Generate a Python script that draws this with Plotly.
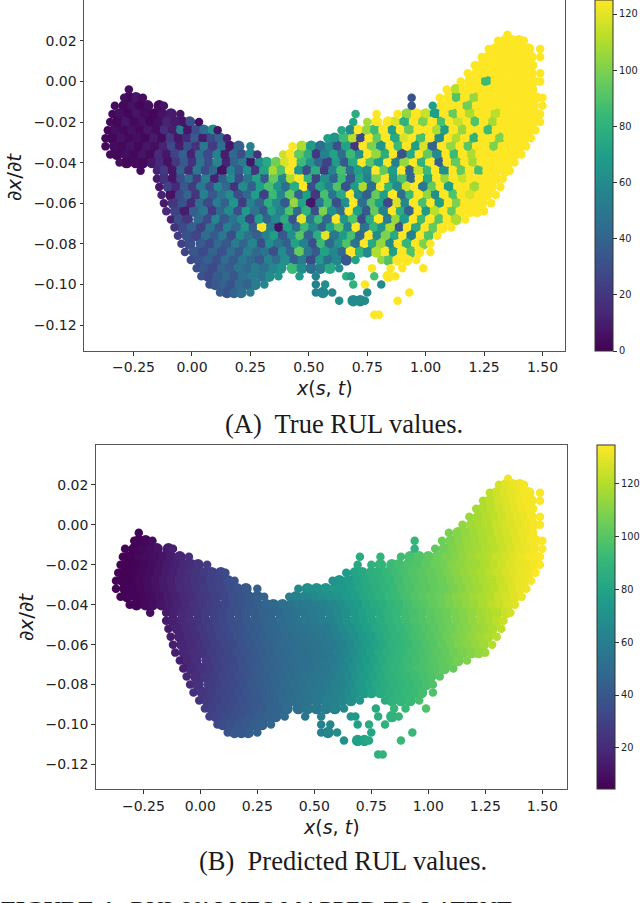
import plotly.graph_objects as go

# points, one row per dx/dt level
y_rows = [.023, .020, .016, .012, .008, .004, 0, -.004, -.008, -.012, -.016, -.020, -.024, -.028, -.032, -.036,
          -.040, -.044, -.048, -.052, -.056, -.060, -.064, -.068, -.072, -.076, -.080, -.084, -.088, -.092,
          -.096, -.100, -.104, -.108, -.115]

x_rows = [
    [1.35],
    [1.31,1.34,1.37,1.40,1.42],
    [1.27,1.30,1.33,1.36,1.39,1.42,1.44,1.49],
    [1.24,1.27,1.31,1.34,1.37,1.40,1.43,1.45,1.49],
    [1.21,1.24,1.28,1.31,1.35,1.38,1.41,1.44,1.46],
    [1.18,1.22,1.25,1.29,1.32,1.36,1.39,1.42,1.45,1.49],
    [1.15,1.19,1.22,1.26,1.30,1.33,1.36,1.40,1.43,1.46, 1.49],
    [-.27,1.09,1.13,1.16,1.20,1.23,1.27,1.31,1.34,1.38,1.41, 1.44,1.46],
    [-.29,-.27,-.24,-.21,.94,1.06,1.10,1.13,1.17,1.21,1.24,1.28, 1.32,1.35,1.39,1.42,1.45,1.47,1.50],
    [-.33,-.29,-.26,-.22,-.19,-.14,-.12,.94,1.03,1.07, 1.11,1.14,1.18,1.22,1.25,1.29,1.33,1.36,1.40,1.43, 1.46,1.50],
    [-.34,-.31,-.27,-.24,-.20,-.16,-.13,-.09,-.05,.70,.79,.88, .92,.96,1.00,1.04,1.08,1.12,1.15,1.19,1.23,1.26, 1.30,1.34,1.37,1.41,1.44,1.47,1.49],
    [-.35,-.32,-.28,-.25,-.21,-.18,-.14,-.11,-.07,-.04, -.01,.03,.69,.75,.79,.84,.87,.91,.95,.99, 1.03,1.07,1.10,1.14,1.18,1.21,1.25,1.29,1.32,1.36, 1.39,1.43,1.46,1.49],
    [-.36,-.33,-.29,-.26,-.22,-.19,-.15,-.12,-.08,-.05, -.02,.02,.05,.09,.11,.64,.68,.71,.75,.78, .82,.86,.89,.93,.97,1.01,1.05,1.08,1.12,1.16, 1.19,1.23,1.27,1.30,1.34,1.37,1.41,1.44,1.47],
    [-.37,-.34,-.30,-.27,-.23,-.20,-.16,-.13,-.09,-.06, -.02,.01,.05,.08,.12,.15,.58,.61,.65,.69, .72,.76,.79,.83,.87,.91,.94,.98,1.02,1.06, 1.10,1.13,1.17,1.21,1.24,1.28,1.32,1.35,1.39,1.42, 1.45],
    [-.37,-.33,-.30,-.26,-.23,-.19,-.16,-.12,-.09,-.05, -.02,.02,.05,.09,.13,.16,.20,.25,.43,.47, .51,.55,.59,.62,.66,.70,.73,.77,.81,.85, .88,.92,.96,.99,1.03,1.07,1.11,1.15,1.18,1.22, 1.26,1.29,1.33,1.37,1.40,1.43],
    [-.35,-.32,-.28,-.25,-.21,-.18,-.14,-.11,-.07,-.04, 0,.03,.07,.11,.14,.18,.21,.25,.28,.39, .42,.46,.50,.53,.57,.61,.64,.68,.72,.75, .79,.83,.86,.90,.94,.97,1.01,1.05,1.09,1.12, 1.16,1.20,1.23,1.27,1.31,1.34,1.38,1.41],
    [-.31,-.28,-.24,-.21,-.17,-.14,-.10,-.07,-.03,0, .04,.07,.11,.15,.18,.22,.25,.29,.32,.36, .40,.43,.47,.51,.54,.58,.62,.65,.69,.73, .76,.80,.84,.87,.91,.95,.98,1.02,1.06,1.09, 1.13,1.17,1.20,1.24,1.28,1.31,1.35,1.38],
    [-.22,-.15,-.12,-.08,-.05,-.01,.02,.06,.09,.13, .17,.20,.24,.27,.31,.35,.38,.42,.46,.49, .53,.57,.60,.64,.68,.71,.75,.79,.82,.86, .90,.93,.97,1.01,1.04,1.08,1.12,1.15,1.19,1.23, 1.26,1.30,1.34,1.36],
    [-.15,-.12,-.08,-.05,-.01,.02,.06,.10,.13,.17, .20,.24,.28,.31,.35,.39,.42,.46,.50,.53, .57,.61,.64,.68,.72,.75,.79,.83,.86,.90, .94,.97,1.01,1.05,1.08,1.12,1.16,1.19,1.23,1.27, 1.30,1.33],
    [-.14,-.10,-.07,-.03,0,.04,.08,.11,.15,.18, .22,.26,.29,.33,.37,.40,.44,.48,.51,.55, .59,.62,.66,.70,.73,.77,.81,.84,.88,.92, .95,.99,1.03,1.06,1.10,1.14,1.17,1.21,1.25,1.28, 1.32],
    [-.13,-.09,-.05,-.02,.02,.05,.09,.13,.16,.20, .24,.27,.31,.35,.38,.42,.46,.49,.53,.57, .60,.64,.68,.71,.75,.79,.82,.86,.90,.93, .97,1.01,1.04,1.08,1.12,1.15,1.19,1.23,1.26,1.30],
    [-.12,-.08,-.04,0,.03,.07,.11,.14,.18,.22, .25,.29,.33,.36,.40,.44,.47,.51,.55,.58, .62,.66,.69,.73,.77,.80,.84,.88,.91,.95, .99,1.02,1.06,1.10,1.13,1.17,1.21,1.24,1.28],
    [-.11,-.07,-.03,.01,.05,.09,.12,.16,.20,.23, .27,.31,.34,.38,.42,.45,.49,.53,.56,.60, .64,.67,.71,.75,.78,.82,.86,.89,.93,.97, 1.00,1.04,1.08,1.11,1.15,1.19,1.22,1.25],
    [-.09,-.06,-.02,.03,.07,.10,.14,.18,.21,.25, .29,.32,.36,.40,.43,.47,.51,.54,.58,.62, .65,.69,.73,.76,.80,.84,.87,.91,.95,.98, 1.02,1.06,1.09,1.13,1.17],
    [-.075,-.04,0,.04,.08,.12,.15,.19,.23,.26, .30,.34,.37,.41,.45,.48,.52,.56,.59,.63, .67,.70,.74,.78,.81,.85,.89,.92,.96,1.00, 1.03,1.07,1.11],
    [-.06,-.02,.02,.06,.10,.13,.17,.21,.24,.28, .32,.35,.39,.43,.46,.50,.54,.57,.61,.65, .68,.72,.76,.79,.83,.87,.90,.94,.98,1.01, 1.05],
    [-.045,-.01,.04,.08,.11,.15,.19,.22,.26,.30, .33,.37,.41,.44,.48,.52,.55,.59,.63,.66, .70,.74,.77,.81,.85,.88,.92,.96,.99,1.02],
    [-.03,.01,.05,.09,.13,.17,.20,.24,.28,.31, .35,.39,.42,.46,.50,.53,.57,.61,.64,.68, .72,.75,.79,.83,.86,.90,.94,.97,1.02],
    [-.005,.03,.07,.11,.14,.18,.22,.25,.29,.33, .36,.40,.44,.47,.51,.55,.58,.62,.66,.70, .81,.84,.88,.92,.96],
    [.02,.05,.09,.13,.16,.20,.24,.27,.31,.35, .38,.43,.47,.51,.55,.59,.63,.77,.85,.90, .99],
    [.04,.07,.11,.15,.18,.22,.26,.30,.33,.37, .46,.53,.66,.68,.78,.84,.87],
    [.075,.10,.13,.17,.20,.24,.27,.31,.53,.57, .69,.74,.81],
    [.12,.15,.18,.21,.25,.53,.56,.60,.75,.93],
    [.63,.69,.72,.74,.88],
    [.78,.80],
]

rul_true_rows = [
    [125],
    [125,125,125,125,125],
    [125,125,125,125,125,125,125,125],
    [125,125,125,125,125,125,125,125,125],
    [125,125,125,125,125,125,125,125,125],
    [125,125,125,125,125,125,125,125,125,125],
    [125,125,125,85,125,125,125,125,125,125, 125],
    [5,125,112,125,125,125,125,125,125,125,125, 125,125],
    [5,3,8,4,32,125,125,90,125,105,125,125, 125,125,125,125,125,125,125],
    [4,3,6,2,5,3,7,32,70,125, 125,125,98,125,125,125,125,125,125,125, 125,125],
    [3,5,2,7,4,2,6,9,7,78,125,125, 105,125,115,70,125,95,125,110,125,125, 112,125,125,125,125,125,125],
    [4,2,8,3,6,2,5,12,9,7, 30,5,72,108,125,125,118,80,125,100, 125,88,125,115,125,90,125,108,125,125, 125,125,125,125],
    [2,5,3,6,3,8,4,16,10,52, 8,30,45,62,8,75,60,125,105,85, 125,70,125,95,125,125,110,70,125,105, 125,125,85,125,125,125,125,125,125],
    [3,2,6,3,5,2,9,4,22,8, 14,35,10,28,40,12,70,65,85,112, 28,125,95,125,75,118,125,88,125,60, 125,110,125,80,125,125,100,125,125,125, 125],
    [2,4,3,6,2,8,5,12,28,10, 32,18,50,22,45,8,38,55,125,110, 68,45,60,30,72,20,125,100,65,125, 85,125,70,118,40,125,105,125,92,125, 125,100,125,125,125,125],
    [3,2,5,3,7,4,15,8,25,38, 12,45,28,55,10,42,30,58,18,115, 125,95,78,20,55,72,45,85,62,125, 105,78,125,32,75,125,95,60,125,85, 125,110,125,125,125,125,125,125],
    [5,2,4,3,8,14,6,20,35,18, 48,30,58,12,40,52,8,62,75,98, 118,125,85,65,42,25,68,35,75,125, 92,70,125,55,105,125,80,125,38,125, 95,125,108,125,125,125,125,125],
    [4,12,22,8,38,15,50,28,42,6, 55,35,62,20,72,108,90,125,65,30, 78,22,55,88,45,70,60,125,95,68, 125,40,115,85,125,62,125,95,125,88, 125,125,125,125],
    [10,18,7,30,45,22,55,12,38,60, 28,48,72,35,95,58,110,125,80,25, 62,40,85,35,75,55,100,125,65,90, 42,125,75,125,105,125,115,125,125,125, 125,125],
    [8,25,14,35,22,50,30,58,42,18, 60,38,70,88,65,45,78,125,30,72, 55,90,32,68,110,45,125,82,60,115, 125,50,95,125,70,125,125,108,125,125, 125],
    [12,6,28,40,20,55,35,48,62,30, 42,70,25,85,58,95,40,70,20,88, 48,75,125,60,38,95,70,125,45,85, 125,105,62,125,90,125,118,125,125,125],
    [9,20,32,15,45,28,52,38,65,22, 55,40,78,60,35,105,72,8,50,85, 30,62,125,45,92,70,28,118,58,125, 88,125,70,125,100,125,125,125,125],
    [14,25,10,38,50,22,42,60,30,68, 48,35,72,55,90,42,80,30,100,62, 45,125,70,35,95,55,125,78,40,125, 68,112,125,95,125,125,125,125],
    [11,30,20,42,28,58,35,48,62,25, 70,40,58,78,32,120,50,85,42,125, 65,90,30,75,125,52,105,68,125,85, 125,92,125,110,125],
    [18,28,38,24,48,32,55,42,66,36, 125,52,6,70,45,85,60,38,72,95, 55,125,48,82,65,110,35,125,75,125, 95,125,125],
    [22,32,26,44,36,50,30,60,46,38, 55,70,35,62,92,40,78,120,50,68, 88,42,125,60,100,75,125,55,125,90, 125],
    [24,30,36,28,42,34,52,40,58,30, 62,48,38,72,55,30,85,42,65,90, 48,125,75,105,60,125,82,125,100,125],
    [26,34,28,40,32,46,36,54,42,48, 30,60,40,95,50,35,72,58,42,125, 80,60,110,125,70,125,90,125,125],
    [28,32,38,30,44,36,50,42,35,56, 44,62,38,52,28,68,45,58,35,72, 105,90,125,125,125],
    [30,34,28,40,36,48,42,52,46,58, 64,85,60,45,52,75,62,125,125,125, 125],
    [32,28,36,42,34,46,52,48,60,65, 68,55,78,70,88,125,125],
    [30,34,38,32,44,40,52,58,55,62, 80,125,60],
    [36,32,40,46,52,55,58,58,60,125],
    [62,60,60,60,125],
    [125,125],
]

rul_pred_rows = [
    [132],
    [126,129,131,132,133],
    [122,125,128,130,131,133,133,134],
    [119,122,126,128,130,132,133,133,134],
    [117,119,122,125,128,130,132,133,133],
    [115,117,120,122,125,128,130,131,133,134],
    [113,116,118,120,124,126,128,130,132,133, 134],
    [6,108,111,113,116,118,120,124,126,129,131, 132,133],
    [6,6,7,9,90,105,108,111,114,116,118,121, 124,126,129,131,133,133,134],
    [5,6,7,9,11,14,16,88,102,106, 109,112,115,117,119,121,124,127,130,131, 133,134],
    [5,5,7,8,10,12,15,18,21,84,90,94, 96,99,102,105,108,110,113,116,118,120, 124,126,129,131,133,134,134],
    [5,5,6,7,9,11,14,16,19,21, 24,27,82,87,90,93,95,97,99,102, 105,107,110,112,115,116,119,122,125,128, 130,131,133,134],
    [5,5,6,7,9,11,14,16,19,21, 24,27,30,32,34,76,80,83,86,88, 91,94,96,99,101,103,105,108,111,114, 116,118,121,124,127,129,131,132,134],
    [5,5,6,7,9,11,14,16,19,21, 24,26,30,31,35,37,70,72,76,80, 83,86,88,91,94,97,99,101,103,105, 108,111,113,116,118,120,124,127,130,131, 133],
    [5,5,6,7,9,11,14,16,19,21, 24,27,30,32,35,37,40,44,66,69, 70,72,74,74,77,81,83,86,89,92, 95,97,100,101,103,105,108,111,114,116, 119,121,125,128,131,132],
    [5,6,6,7,9,11,14,16,19,21, 25,27,30,32,36,38,40,43,46,60, 62,64,66,68,70,72,74,78,82,85, 88,91,93,96,99,101,103,105,108,111, 113,116,118,120,124,126,129,131],
    [6,6,7,9,12,14,17,19,23,25, 28,30,32,36,38,41,43,47,48,52, 54,56,58,60,62,65,68,72,76,80, 83,86,90,92,95,98,100,103,105,108, 110,113,115,118,122,124,127,129],
    [9,14,16,19,21,24,27,30,32,35, 37,40,42,45,46,48,52,54,56,58, 60,63,66,70,74,78,81,84,88,91, 94,96,98,101,103,105,108,110,113,116, 118,120,124,126],
    [14,16,19,21,24,27,30,33,35,37, 40,42,45,47,50,52,54,56,58,60, 62,66,70,74,78,81,84,88,91,94, 97,99,101,103,105,108,110,113,116,118, 122,124],
    [14,17,19,22,25,28,31,33,36,38, 41,43,46,48,50,52,54,55,56,58, 62,66,70,74,78,82,85,88,91,94, 96,99,101,103,106,109,111,114,116,119, 122],
    [15,17,20,22,26,28,32,34,37,39, 42,44,46,48,50,52,53,54,56,58, 62,66,70,74,78,82,86,89,92,95, 97,100,102,105,108,110,113,116,118,121],
    [15,18,20,23,26,29,32,34,37,40, 42,45,47,49,50,52,53,54,56,58, 62,66,71,75,79,83,87,90,92,95, 98,100,103,106,109,111,114,116,120],
    [15,18,21,24,27,30,32,35,38,40, 43,45,48,49,51,52,53,55,57,60, 64,68,73,78,82,86,89,91,94,96, 98,101,103,106,108,110,113,115],
    [15,18,22,25,29,31,33,36,39,41, 44,46,48,50,51,52,54,56,58,62, 66,71,76,80,84,88,90,93,95,97, 100,102,104,107,109],
    [16,19,23,26,30,32,34,37,40,42, 45,47,49,50,52,53,55,57,60,64, 69,73,78,82,86,89,92,94,96,98, 100,102,104],
    [18,21,25,28,31,33,35,38,41,43, 46,48,50,52,54,55,56,58,62,66, 71,75,80,84,87,90,92,94,96,98, 100],
    [20,23,27,30,32,34,37,40,42,44, 47,49,51,53,55,56,58,61,64,68, 74,78,82,85,88,90,92,94,96,98],
    [22,25,28,31,33,35,38,40,43,45, 48,50,52,54,56,58,60,63,66,71, 76,80,84,86,89,91,93,95,98],
    [24,27,30,32,34,36,39,41,44,46, 49,51,53,55,57,60,62,65,69,73, 85,88,90,92,95],
    [27,29,32,34,36,38,40,42,45,47, 50,52,55,57,60,63,66,83,90,92, 98],
    [30,31,34,36,38,40,43,45,47,49, 55,62,72,74,86,88,90],
    [33,35,37,39,41,43,45,47,62,66, 78,84,88],
    [38,40,41,43,45,62,64,68,80,92],
    [70,78,80,82,92],
    [88,89],
]

x_ticks = [-0.25, 0, 0.25, 0.5, 0.75, 1, 1.25, 1.5]
x_ticktext = ["\u22120.25", "0.00", "0.25", "0.50", "0.75", "1.00", "1.25", "1.50"]
y_ticks = [0.02, 0, -0.02, -0.04, -0.06, -0.08, -0.10, -0.12]
y_ticktext = ["0.02", "0.00", "\u22120.02", "\u22120.04", "\u22120.06", "\u22120.08", "\u22120.10", "\u22120.12"]
cbar_a_ticks = [0, 20, 40, 60, 80, 100, 120]
cbar_b_ticks = [20, 40, 60, 80, 100, 120]

W, H = 640, 903


def flat(rows):
    return [v for r in rows for v in r]


xs = flat(x_rows)
ys = flat([[y] * len(r) for y, r in zip(y_rows, x_rows)])
rul_true = flat(rul_true_rows)
rul_pred = flat(rul_pred_rows)

# points with a close neighbour on both sides get a wider dot underneath so the cloud reads as solid
inner = []
for r in x_rows:
    for i, v in enumerate(r):
        inner.append(0 < i < len(r) - 1 and v - r[i - 1] < 0.06 and r[i + 1] - v < 0.06)


def pick(values):
    return [v for v, keep in zip(values, inner) if keep]


fig = go.Figure()
fig.add_trace(go.Scatter(x=pick(xs), y=pick(ys), mode="markers", xaxis="x", yaxis="y",
                         marker=dict(size=11.5, color=pick(rul_true), coloraxis="coloraxis", line=dict(width=0))))
fig.add_trace(go.Scatter(x=xs, y=ys, mode="markers", xaxis="x", yaxis="y",
                         marker=dict(size=8.5, color=rul_true, coloraxis="coloraxis", line=dict(width=0))))
fig.add_trace(go.Scatter(x=pick(xs), y=pick(ys), mode="markers", xaxis="x2", yaxis="y2",
                         marker=dict(size=11.5, color=pick(rul_pred), coloraxis="coloraxis2", line=dict(width=0))))
fig.add_trace(go.Scatter(x=xs, y=ys, mode="markers", xaxis="x2", yaxis="y2",
                         marker=dict(size=8.5, color=rul_pred, coloraxis="coloraxis2", line=dict(width=0))))

axis_style = dict(showgrid=False, zeroline=False, showline=True, mirror=True, linecolor="#555", linewidth=1,
                  ticks="outside", ticklen=3.5, tickcolor="#333", tickfont=dict(family="DejaVu Sans", size=14, color="#222"))


def cbar(left, top, height, ticks):
    return dict(x=left / W, xanchor="left", xpad=0, y=1 - top / H, yanchor="top", ypad=0, thickness=18,
                len=height / H, lenmode="fraction", outlinecolor="#333", outlinewidth=1,
                tickvals=ticks, ticks="outside", ticklen=4, tickcolor="#333",
                tickfont=dict(family="DejaVu Sans", size=9.8, color="#222"))


fig.update_layout(
    width=W, height=H, margin=dict(l=0, r=0, t=0, b=0, autoexpand=False),
    plot_bgcolor="white", paper_bgcolor="white", showlegend=False,
    xaxis=dict(domain=[84 / W, 564.5 / W], range=[-0.462, 1.594], anchor="y",
               tickvals=x_ticks, ticktext=x_ticktext, **axis_style),
    yaxis=dict(domain=[1 - 351 / H, 1], range=[-0.1328, 0.0401], anchor="x",
               tickvals=y_ticks, ticktext=y_ticktext, **axis_style),
    xaxis2=dict(domain=[95.7 / W, 566.7 / W], range=[-0.459, 1.607], anchor="y2",
                tickvals=x_ticks, ticktext=x_ticktext, **axis_style),
    yaxis2=dict(domain=[1 - 789.3 / H, 1 - 445 / H], range=[-0.1324, 0.0399], anchor="x2",
                tickvals=y_ticks, ticktext=y_ticktext, **axis_style),
    coloraxis=dict(colorscale="Viridis", cmin=0, cmax=125, colorbar=cbar(595, 0, 351, cbar_a_ticks)),
    coloraxis2=dict(colorscale="Viridis", cmin=4.4, cmax=134.7, colorbar=cbar(597, 445, 344.3, cbar_b_ticks)),
)


def note(text, px, py, size, family="DejaVu Sans", angle=0, xanchor="center", yanchor="middle"):
    fig.add_annotation(text=text, x=px / W, y=1 - py / H, xref="paper", yref="paper", showarrow=False,
                       xanchor=xanchor, yanchor=yanchor, textangle=angle, borderpad=0,
                       font=dict(family=family, size=size, color="#1a1a1a"))


note("<i>x</i>(<i>s</i>, <i>t</i>)", 324, 388, 19)
note("<i>x</i>(<i>s</i>, <i>t</i>)", 331, 827, 19)
note("\u2202<i>x</i>/\u2202<i>t</i>", 14, 177, 20, angle=-90)
note("\u2202<i>x</i>/\u2202<i>t</i>", 26, 617, 20, angle=-90)
note("(A)  True RUL values.", 343.5, 424, 26.5, family="Liberation Serif")
note("(B)  Predicted RUL values.", 343, 861, 26.5, family="Liberation Serif")
note("<b>FIGURE 4.</b>  RUL VALUES MAPPED TO LATENT", 0, 895, 24, family="Liberation Serif",
     xanchor="left", yanchor="top")

fig.write_html("out.html", config={"displayModeBar": False}, post_script="document.body.style.margin='0'")
